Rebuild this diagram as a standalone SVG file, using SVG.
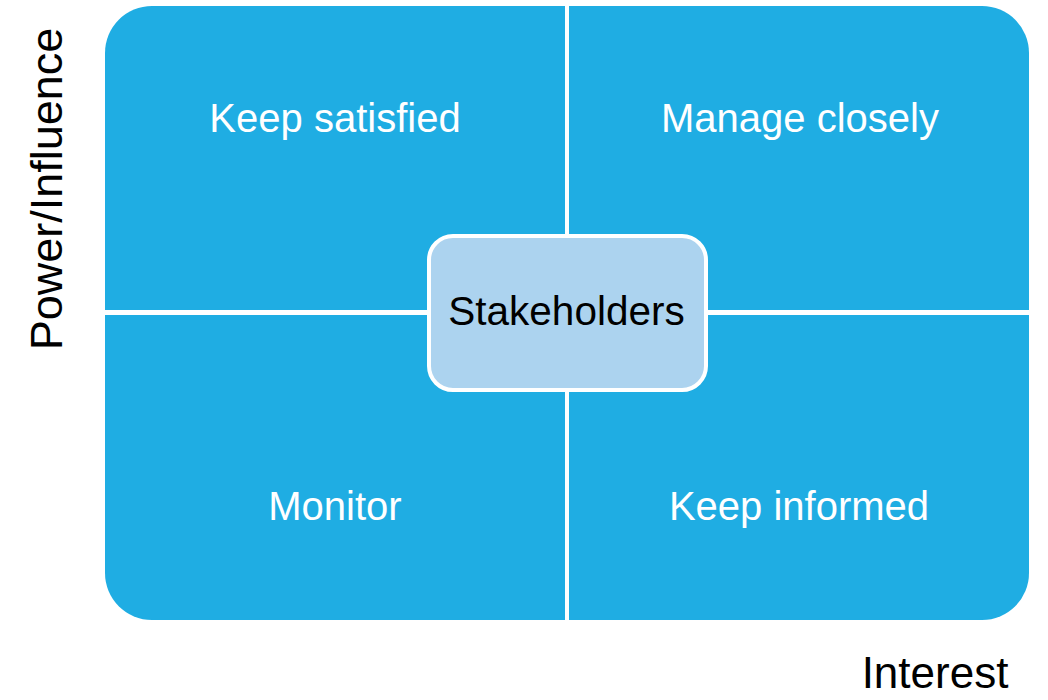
<svg xmlns="http://www.w3.org/2000/svg" width="1048" height="700" viewBox="0 0 1048 700">
<style>
.q{fill:#1FADE3}
.ql{font-family:"Liberation Sans",Arial,sans-serif;font-size:40px;fill:#FFFFFF;text-anchor:middle}
.ax{font-family:"Liberation Sans",Arial,sans-serif;font-size:45px;fill:#000000;text-anchor:middle}
.c{fill:#ACD3EF;stroke:#FFFFFF;stroke-width:4}
.cl{font-family:"Liberation Sans",Arial,sans-serif;font-size:40.5px;fill:#000000;text-anchor:middle}
</style>
<rect width="1048" height="700" fill="#FFFFFF"/>
<g id="keep-satisfied">
<path class="q" d="M105,310 V53 A47,47 0 0 1 152,6 H565 V310 Z"/>
<text class="ql" x="335" y="132">Keep satisfied</text>
</g>
<g id="manage-closely">
<path class="q" d="M569,6 H982 A47,47 0 0 1 1029,53 V310 H569 Z"/>
<text class="ql" x="800" y="132">Manage closely</text>
</g>
<g id="monitor">
<path class="q" d="M105,315 H565 V620 H152 A47,47 0 0 1 105,573 Z"/>
<text class="ql" x="335" y="520">Monitor</text>
</g>
<g id="keep-informed">
<path class="q" d="M569,315 H1029 V573 A47,47 0 0 1 982,620 H569 Z"/>
<text class="ql" x="799" y="520">Keep informed</text>
</g>
<g id="connectors"></g>
<g id="stakeholders">
<rect class="c" x="429" y="236" width="277" height="154" rx="24" ry="24"/>
<text class="cl" x="566.5" y="325">Stakeholders</text>
</g>
<g id="axis-interest">
<text class="ax" x="935" y="688" style="font-size:44px">Interest</text>
</g>
<g id="axis-power">
<text class="ax" transform="translate(62,189) rotate(-90)" x="0" y="0">Power/Influence</text>
</g>
</svg>
